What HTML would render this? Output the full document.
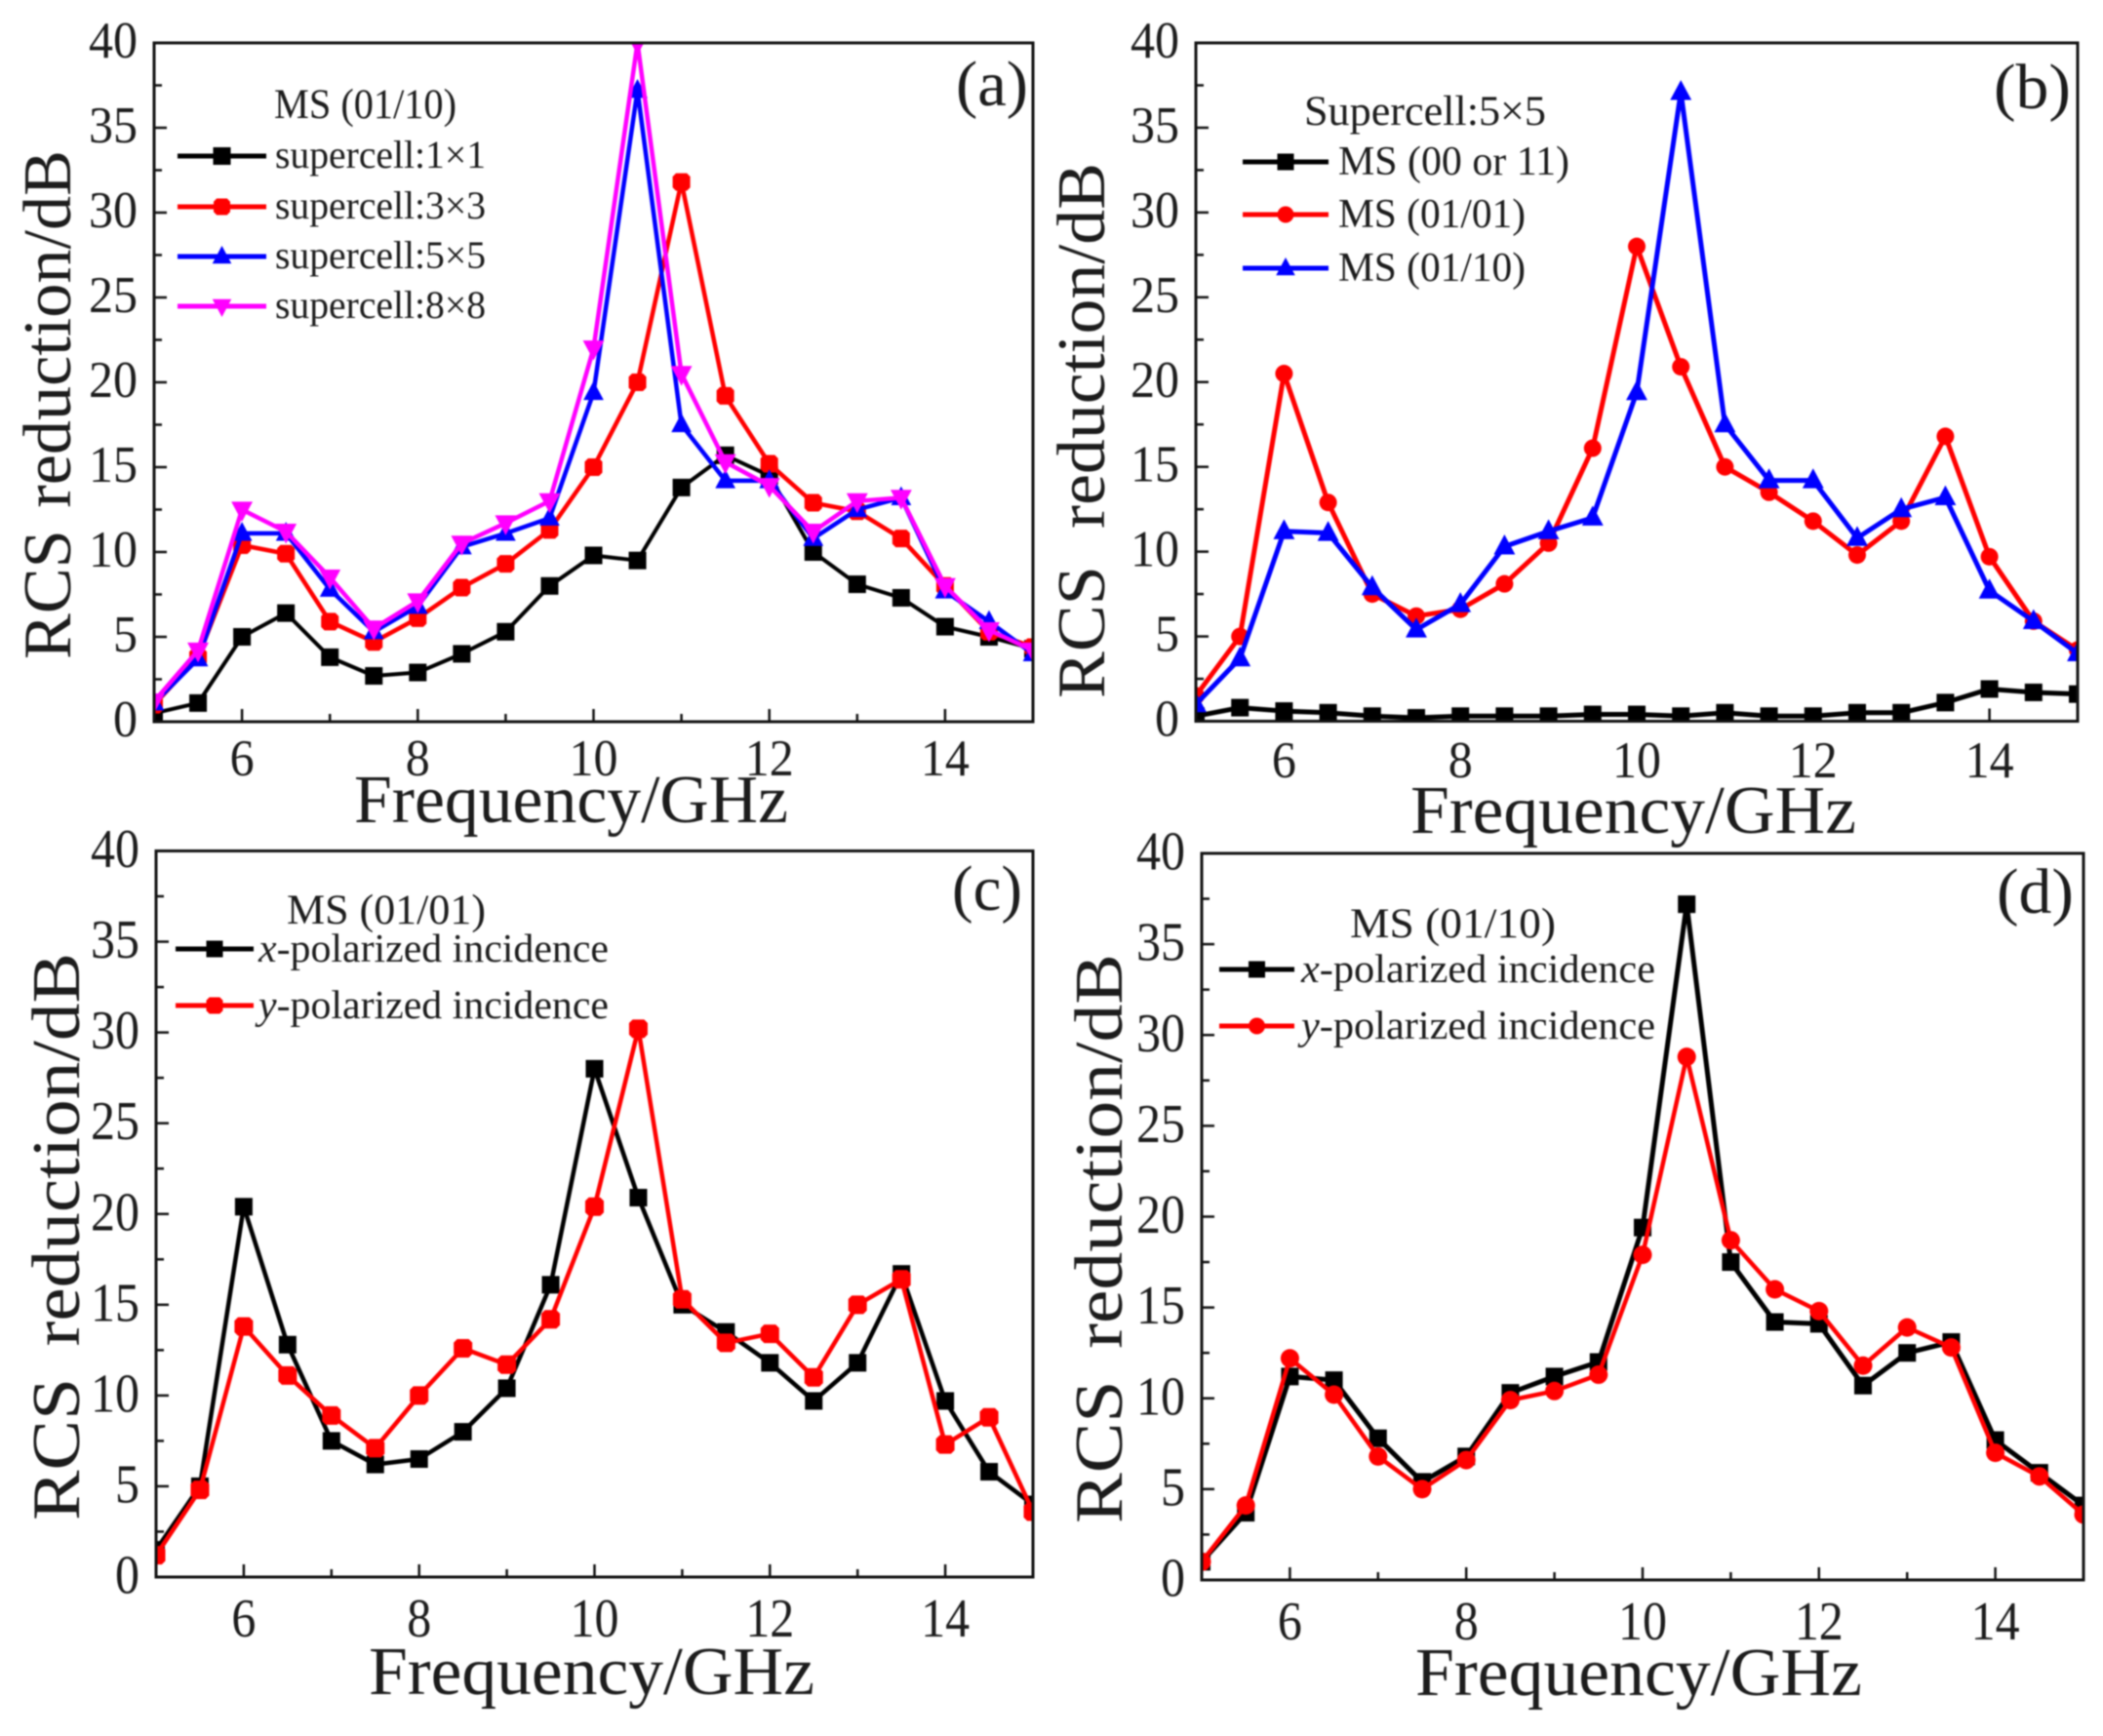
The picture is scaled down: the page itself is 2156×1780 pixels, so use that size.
<!DOCTYPE html>
<html lang="en">
<head>
<meta charset="utf-8">
<title>RCS reduction vs frequency</title>
<style>
html,body{margin:0;padding:0;background:#fff;width:2156px;height:1780px;overflow:hidden}
svg{display:block;filter:blur(0.8px)}
text{font-family:"Liberation Serif","DejaVu Serif",serif;fill:#1c1c1c}
</style>
</head>
<body>
<svg id="chart" xmlns="http://www.w3.org/2000/svg" width="2156" height="1780" viewBox="0 0 2156 1780"></svg>
<script>
const frequencies = [5,5.5,6,6.5,7,7.5,8,8.5,9,9.5,10,10.5,11,11.5,12,12.5,13,13.5,14,14.5,15];
const yTickLabels = [0,5,10,15,20,25,30,35,40];
const xTickLabels = [6,8,10,12,14];

const aSupercell1 = [0.5,1.1,5,6.4,3.8,2.7,2.9,4,5.3,8,9.8,9.5,13.8,15.7,14.5,10,8.1,7.3,5.6,5,4.3];
const aSupercell3 = [1,3.8,10.4,9.9,5.9,4.7,6.1,7.9,9.3,11.3,15,20,31.8,19.2,15.2,12.9,12.4,10.8,8,5.3,4.4];
const aSupercell5 = [1.1,3.7,11.1,11.1,7.8,5.3,6.8,10.3,11.1,12,19.4,37.2,17.5,14.2,14.2,10.8,12.5,13.2,7.7,5.9,4];
const aSupercell8 = [1.2,4.2,12.5,11.2,8.5,5.5,7.1,10.5,11.7,13,22,40,20.5,15.3,13.9,11.2,13,13.2,8,5.4,4.2];

const bMs00 = [0.3,0.8,0.6,0.5,0.3,0.2,0.3,0.3,0.3,0.4,0.4,0.3,0.5,0.3,0.3,0.5,0.5,1.1,1.9,1.7,1.6];
const bMs0101 = [1.5,5,20.5,12.9,7.5,6.2,6.6,8.1,10.5,16.1,28,20.9,15,13.5,11.8,9.8,11.8,16.8,9.7,5.9,4.2];
const bMs0110 = [1,3.7,11.2,11.1,7.9,5.4,6.9,10.3,11.2,12,19.4,37.1,17.5,14.2,14.2,10.8,12.5,13.2,7.7,5.9,4];

const cXPol = [1.5,5,20.4,12.8,7.5,6.2,6.5,8,10.4,16.1,28,20.9,15,13.5,11.8,9.7,11.8,16.7,9.7,5.8,4];
const cYPol = [1.2,4.8,13.8,11.1,8.9,7.1,10,12.6,11.7,14.2,20.4,30.2,15.3,12.9,13.4,11,15,16.4,7.3,8.8,3.6];

const dXPol = [1,3.7,11.2,11,7.8,5.4,6.8,10.3,11.2,12,19.4,37.2,17.5,14.2,14.1,10.7,12.5,13.1,7.7,5.9,4.1];
const dYPol = [1,4.1,12.2,10.2,6.8,5,6.6,9.9,10.4,11.3,17.9,28.8,18.7,16,14.8,11.8,13.9,12.8,7,5.7,3.6];

const svg = document.getElementById('chart');
const NS = 'http://www.w3.org/2000/svg';

function make(tag, attrs, parent, txt) {
  const el = document.createElementNS(NS, tag);
  for (const k in attrs) el.setAttribute(k, attrs[k]);
  if (txt !== undefined) el.textContent = txt;
  parent.appendChild(el);
  return el;
}

function markerAt(kind, cx, cy, r, color, parent) {
  let el;
  if (kind === 'square') {
    el = make('rect', {x: cx - r, y: cy - r, width: 2 * r, height: 2 * r, fill: color}, parent);
  } else if (kind === 'circle') {
    el = make('circle', {cx: cx, cy: cy, r: r, fill: color}, parent);
  } else if (kind === 'up') {
    el = make('polygon', {points: `${cx},${cy - r * 1.3} ${cx + r * 1.15},${cy + r * 0.85} ${cx - r * 1.15},${cy + r * 0.85}`, fill: color}, parent);
  } else if (kind === 'down') {
    el = make('polygon', {points: `${cx},${cy + r * 1.3} ${cx + r * 1.15},${cy - r * 0.85} ${cx - r * 1.15},${cy - r * 0.85}`, fill: color}, parent);
  } else {
    const q = r * 0.62;
    el = make('polygon', {points: `${cx - q},${cy - r} ${cx + q},${cy - r} ${cx + r},${cy - q} ${cx + r},${cy + q} ${cx + q},${cy + r} ${cx - q},${cy + r} ${cx - r},${cy + q} ${cx - r},${cy - q}`, fill: color}, parent);
  }
  return el;
}

function drawPanel(p) {
  const sx = v => p.left + (v - 5) / 10 * (p.right - p.left);
  const sy = v => p.bottom - v / 40 * (p.bottom - p.top);

  const g = make('g', {}, svg);
  
  

  const clip = make('clipPath', {id: 'clip-' + p.id}, g);
  make('rect', {x: p.left, y: p.top, width: p.right - p.left, height: p.bottom - p.top}, clip);

  // minor and major ticks
  for (let v = 2.5; v < 40; v += 5) {
    const t = make('line', {x1: p.left, x2: p.left + 8, y1: sy(v), y2: sy(v), stroke: '#111', 'stroke-width': 2.5}, g);
    
    
  }
  yTickLabels.forEach(v => {
    const t = make('line', {x1: p.left, x2: p.left + 13, y1: sy(v), y2: sy(v), stroke: '#111', 'stroke-width': 2.5}, g);
    
    
    const l = make('text', {x: 0, y: 0, 'text-anchor': 'end', 'font-size': 50, transform: `translate(${p.left - 17},${sy(v) + p.labelDy}) scale(1,${p.labelScale})`}, g, String(v));
    
    
  });
  for (let v = 5; v < 15; v += 2) {
    const t = make('line', {x1: sx(v), x2: sx(v), y1: p.bottom, y2: p.bottom - 8, stroke: '#111', 'stroke-width': 2.5}, g);
    
    
  }
  xTickLabels.forEach(v => {
    const t = make('line', {x1: sx(v), x2: sx(v), y1: p.bottom, y2: p.bottom - 13, stroke: '#111', 'stroke-width': 2.5}, g);
    
    
    const l = make('text', {x: 0, y: 0, 'text-anchor': 'middle', 'font-size': 50, transform: `translate(${sx(v)},${p.xLabelY}) scale(1,${p.labelScale})`}, g, String(v));
    
    
  });

  // series
  const plot = make('g', {'clip-path': `url(#clip-${p.id})`}, g);
  
  
  p.series.forEach(s => {
    const pts = s.values.map((v, i) => sx(frequencies[i]) + ',' + sy(v)).join(' ');
    const line = make('polyline', {points: pts, fill: 'none', stroke: s.color, 'stroke-width': s.width, 'stroke-linejoin': 'round'}, plot);
    
    
    s.values.forEach((v, i) => {
      const m = markerAt(s.marker, sx(frequencies[i]), sy(v), s.size, s.color, plot);
      
      
    });
  });

  // frame
  const frame = make('rect', {x: p.left, y: p.top, width: p.right - p.left, height: p.bottom - p.top, fill: 'none', stroke: '#111', 'stroke-width': 3}, g);
  
  

  // legend
  const leg = make('g', {}, g);
  
  
  const title = make('text', {x: p.legend.titleX, y: p.legend.titleY, 'font-size': 43, textLength: p.legend.titleW, lengthAdjust: 'spacingAndGlyphs'}, leg, p.legend.title);
  
  
  p.series.forEach((s, i) => {
    const y = p.legend.ys[i];
    const e = make('g', {}, leg);
    
    
    make('line', {x1: p.legend.x1, x2: p.legend.x2, y1: y, y2: y, stroke: s.color, 'stroke-width': 5}, e);
    markerAt(s.marker, (p.legend.x1 + p.legend.x2) / 2, y, s.legendSize || 8.5, s.color, e);
    const t = make('text', {x: p.legend.textX, y: y + p.legend.dy, 'font-size': p.legend.fs, textLength: s.labelW, lengthAdjust: 'spacingAndGlyphs'}, e);
    if (s.italic) {
      make('tspan', {'font-style': 'italic'}, t, s.italic);
    }
    make('tspan', {}, t, s.label);
  });

  // panel letter and axis titles
  const letter = make('text', {x: p.letterX, y: p.letterY, 'font-size': 66, textLength: p.letterW, lengthAdjust: 'spacingAndGlyphs'}, g, '(' + p.id + ')');
  
  

  const xt = make('text', {x: p.xTitleX, y: p.xTitleY, 'font-size': 70, textLength: p.xTitleW, lengthAdjust: 'spacingAndGlyphs'}, g, 'Frequency/GHz');
  
  

  const yt = make('text', {x: 0, y: 0, 'font-size': 70, 'word-spacing': p.yTitleGap, textLength: p.yTitleW, lengthAdjust: 'spacingAndGlyphs', transform: `translate(${p.yTitleX},${p.yTitleBottom}) rotate(-90)`}, g, 'RCS reduction/dB');
  
  
}

drawPanel({
  id: 'a', left: 158, right: 1059, top: 44, bottom: 740, xLabelY: 795, labelScale: 1.05, labelDy: 15,
  letterX: 980, letterY: 108, letterW: 74,
  xTitleX: 363, xTitleY: 843, xTitleW: 445,
  yTitleX: 72, yTitleBottom: 676, yTitleW: 522, yTitleGap: 5,
  legend: {title: 'MS (01/10)', titleX: 281, titleY: 121, titleW: 187, x1: 182, x2: 273, textX: 282, dy: 12, fs: 40, ys: [160, 212, 263, 314]},
  series: [
    {key: 'supercell-1x1', values: aSupercell1, color: '#000', marker: 'square', size: 9, width: 4, label: 'supercell:1×1', labelW: 216, legendSize: 9},
    {key: 'supercell-3x3', values: aSupercell3, color: '#f00', marker: 'octagon', size: 9, width: 4.5, label: 'supercell:3×3', labelW: 216},
    {key: 'supercell-5x5', values: aSupercell5, color: '#00f', marker: 'up', size: 9, width: 4.5, label: 'supercell:5×5', labelW: 216},
    {key: 'supercell-8x8', values: aSupercell8, color: '#f0f', marker: 'down', size: 9.5, width: 4.5, label: 'supercell:8×8', labelW: 216}
  ]
});

drawPanel({
  id: 'b', left: 1226, right: 2130, top: 44, bottom: 739.5, xLabelY: 797, labelScale: 1.05, labelDy: 15,
  letterX: 2044, letterY: 111, letterW: 79,
  xTitleX: 1446, xTitleY: 854, xTitleW: 457,
  yTitleX: 1132, yTitleBottom: 716, yTitleW: 549, yTitleGap: 20,
  legend: {title: 'Supercell:5×5', titleX: 1337, titleY: 128, titleW: 248, x1: 1274, x2: 1362, textX: 1372, dy: 13, fs: 42, ys: [166, 220, 275]},
  series: [
    {key: 'ms-00-or-11', values: bMs00, color: '#000', marker: 'square', size: 9, width: 5, label: 'MS (00 or 11)', labelW: 237},
    {key: 'ms-01-01', values: bMs0101, color: '#f00', marker: 'circle', size: 9, width: 5, label: 'MS (01/01)', labelW: 192},
    {key: 'ms-01-10', values: bMs0110, color: '#00f', marker: 'up', size: 9.5, width: 5, label: 'MS (01/10)', labelW: 192}
  ]
});

drawPanel({
  id: 'c', left: 160, right: 1059, top: 872.5, bottom: 1617, xLabelY: 1678, labelScale: 1.13, labelDy: 16.5,
  letterX: 976, letterY: 933, letterW: 72,
  xTitleX: 378, xTitleY: 1737, xTitleW: 457,
  yTitleX: 81, yTitleBottom: 1559, yTitleW: 582, yTitleGap: 12,
  legend: {title: 'MS (01/01)', titleX: 294, titleY: 947, titleW: 204, x1: 180, x2: 260, textX: 265, dy: 13, fs: 41, ys: [973, 1031]},
  series: [
    {key: 'x-polarized', values: cXPol, color: '#000', marker: 'square', size: 9, width: 4.5, italic: 'x', label: '-polarized incidence', labelW: 359},
    {key: 'y-polarized', values: cYPol, color: '#f00', marker: 'octagon', size: 9.5, width: 4.5, italic: 'y', label: '-polarized incidence', labelW: 359}
  ]
});

drawPanel({
  id: 'd', left: 1232, right: 2136, top: 875, bottom: 1620, xLabelY: 1681, labelScale: 1.13, labelDy: 16.5,
  letterX: 2047, letterY: 936, letterW: 79,
  xTitleX: 1451, xTitleY: 1738, xTitleW: 458,
  yTitleX: 1150, yTitleBottom: 1562, yTitleW: 584, yTitleGap: 12,
  legend: {title: 'MS (01/10)', titleX: 1384, titleY: 961, titleW: 211, x1: 1250, x2: 1327, textX: 1334, dy: 13, fs: 41, ys: [994, 1052]},
  series: [
    {key: 'x-polarized', values: dXPol, color: '#000', marker: 'square', size: 9, width: 5, italic: 'x', label: '-polarized incidence', labelW: 363},
    {key: 'y-polarized', values: dYPol, color: '#f00', marker: 'circle', size: 9.5, width: 4.5, italic: 'y', label: '-polarized incidence', labelW: 363}
  ]
});
</script>
</body>
</html>
